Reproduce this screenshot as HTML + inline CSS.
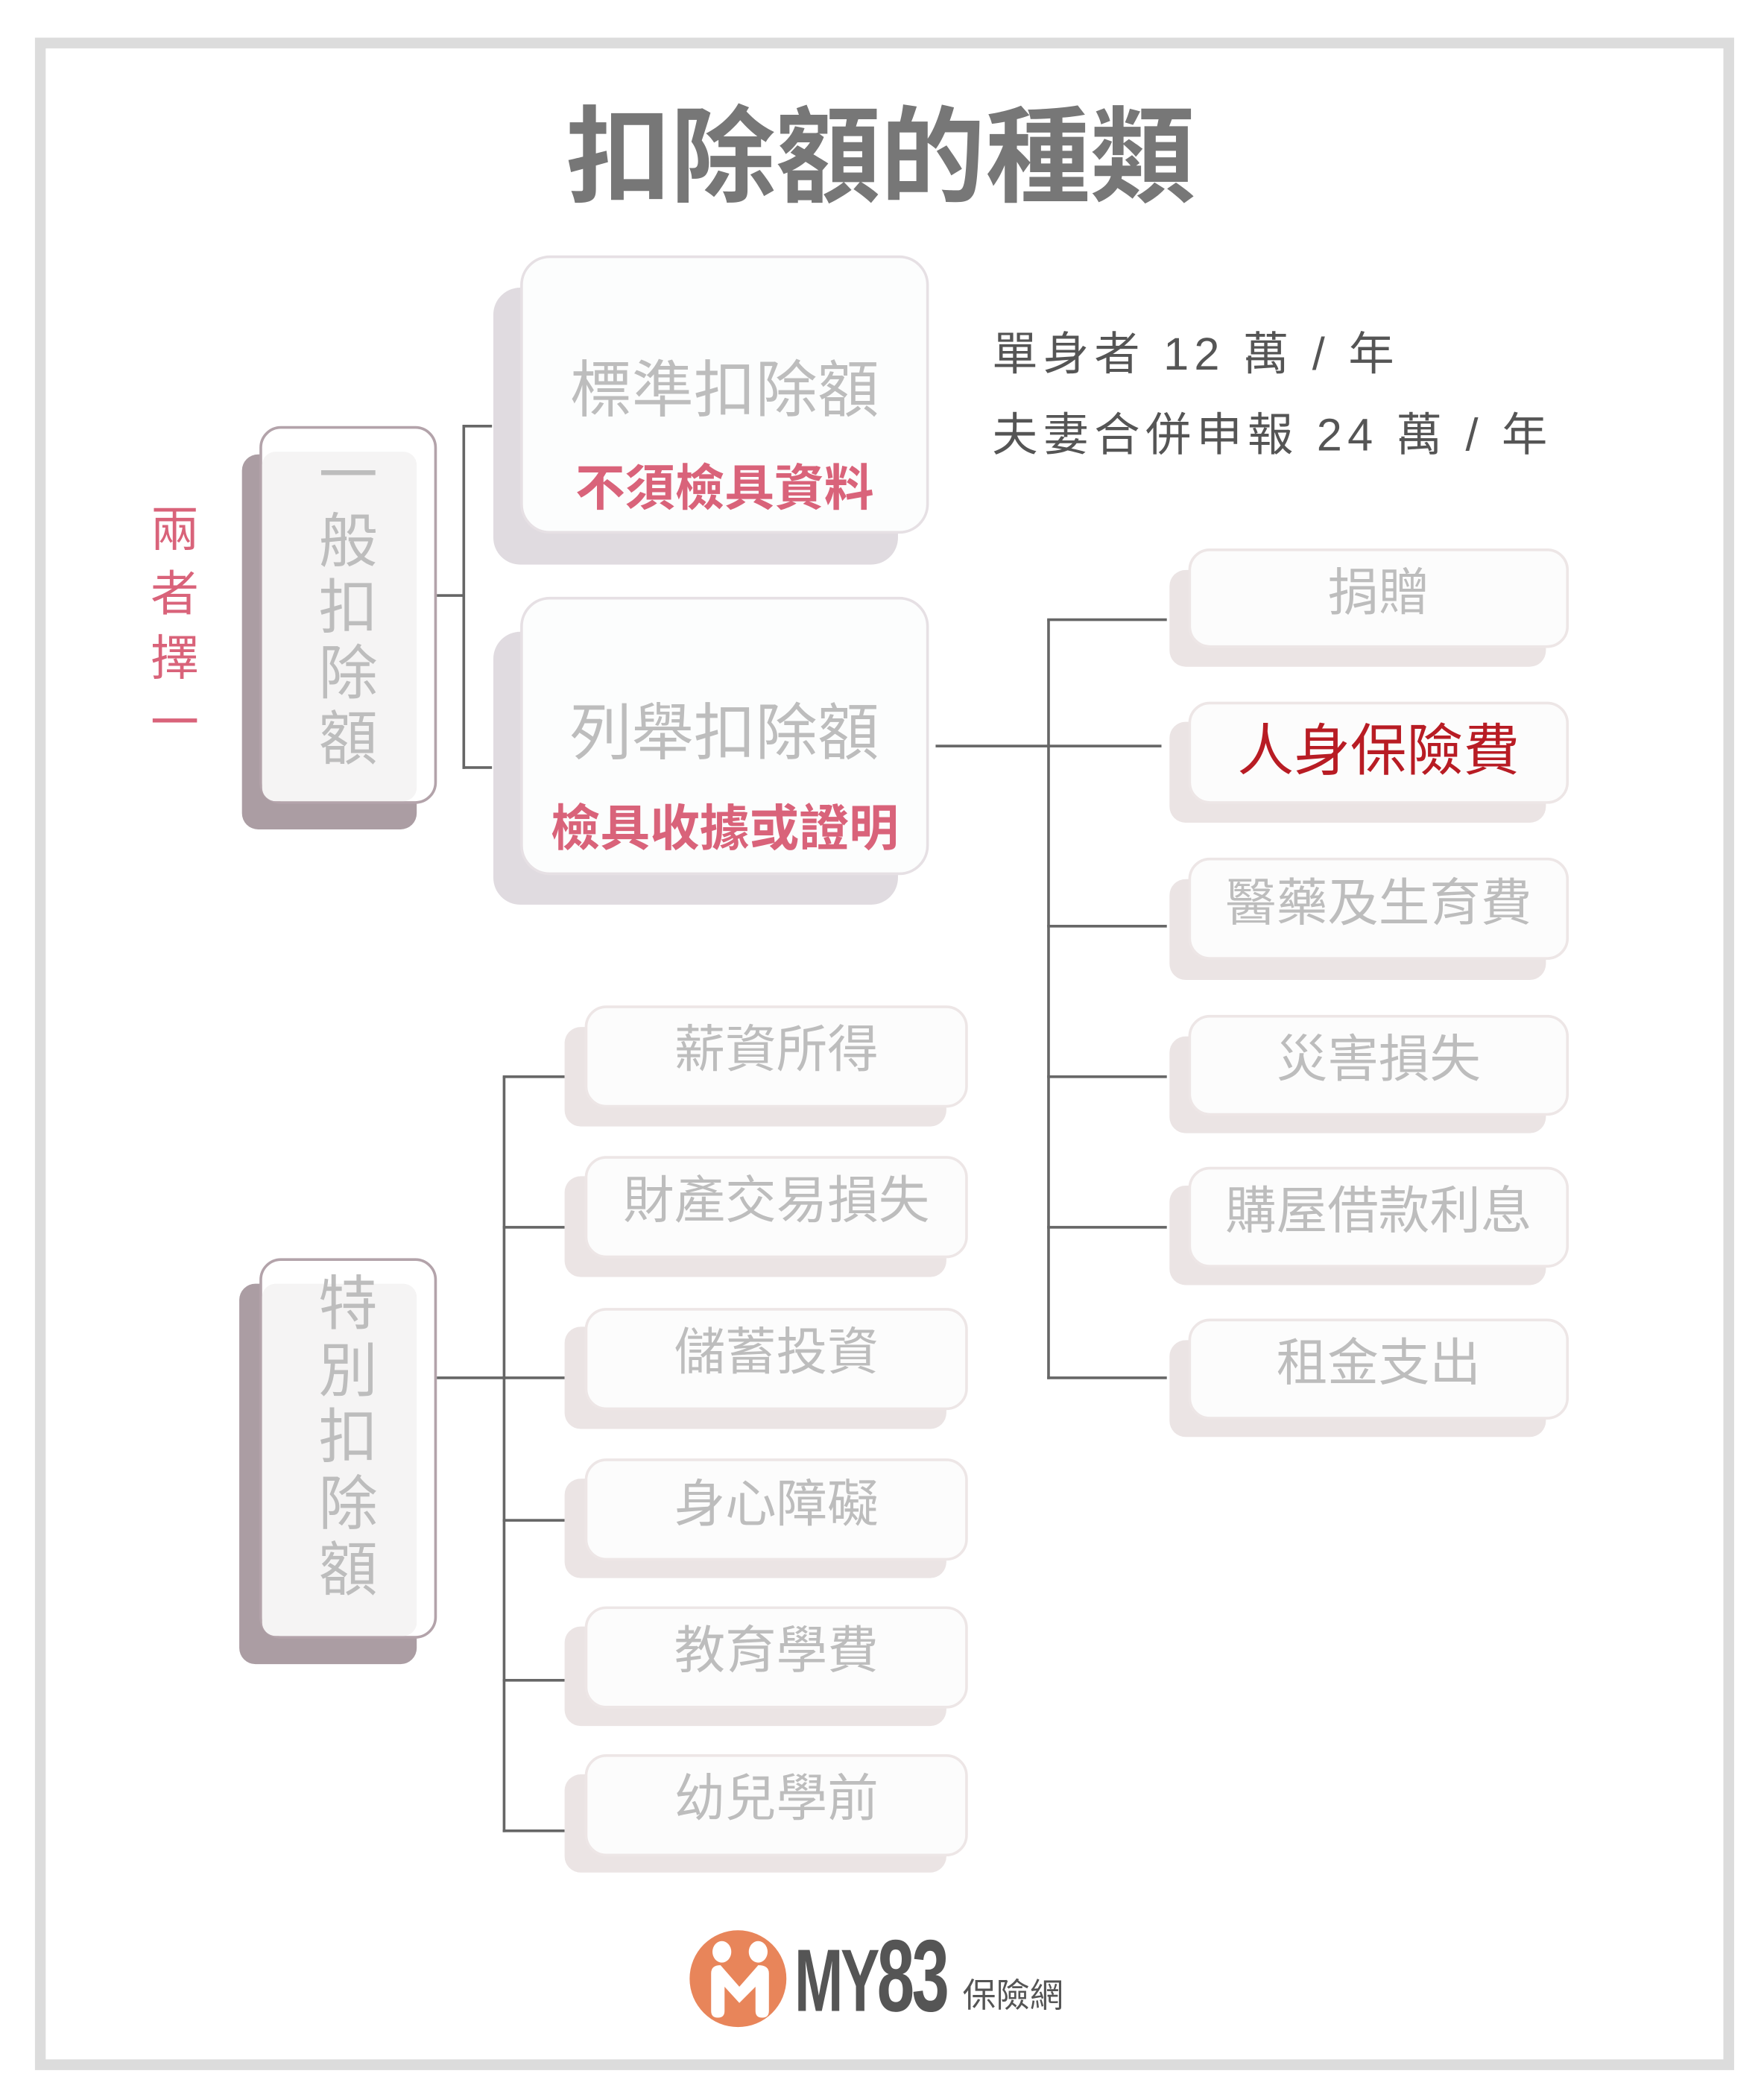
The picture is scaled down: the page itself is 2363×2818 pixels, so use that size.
<!DOCTYPE html>
<html><head><meta charset="utf-8"><style>
html,body{margin:0;padding:0;background:#fff;width:2363px;height:2817px;overflow:hidden}
#w{position:absolute;left:0;top:0;width:1310px;height:1562px;transform:scale(1.80382);transform-origin:0 0;font-family:"Liberation Sans","Noto Sans CJK TC",sans-serif}
.a{position:absolute}
.frame{left:26px;top:28px;width:1248px;height:1496px;border:8px solid #dcdcdc}
.sh{position:absolute;border-radius:12px}
.fr{position:absolute;background:#fff;border-radius:16px;box-sizing:border-box}
.t{position:absolute;text-align:center;white-space:nowrap;color:#bdbdbd}
.l{position:absolute;background:#666}
</style></head><body><div id="w">
<div class="a frame"></div>
<div class="t" style="left:0;width:1310px;top:72px;font-size:78px;font-weight:bold;color:#777;line-height:90px">扣除額的種類</div>

<div class="t" style="left:108px;width:44px;top:370px;font-size:36px;line-height:48px;color:#d9637a;white-space:normal">兩<br>者<br>擇<br>一</div>

<div class="sh" style="left:180px;top:338px;width:130px;height:279px;background:#ab9da3"></div>
<div class="fr" style="left:193px;top:317px;width:132px;height:281px;border:2px solid #b3a3aa"></div>
<div class="a" style="left:195px;top:336px;width:115px;height:260px;background:#f5f4f4;border-radius:10px"></div>
<div class="t" style="left:195px;width:128px;top:330px;font-size:44px;line-height:49px;white-space:normal">一<br>般<br>扣<br>除<br>額</div>

<div class="l" style="left:325px;top:442px;width:20px;height:2px"></div>
<div class="l" style="left:344px;top:317px;width:2px;height:255px"></div>
<div class="l" style="left:344px;top:316px;width:22px;height:2px"></div>
<div class="l" style="left:344px;top:570px;width:22px;height:2px"></div>

<div class="sh" style="left:367px;top:214px;width:301px;height:206px;background:#e0dbe0;border-radius:20px"></div>
<div class="fr" style="left:387px;top:190px;width:304px;height:207px;border:2px solid #e6e0e4;border-radius:22px;background:#fcfdfd"></div>
<div class="t" style="left:387px;width:304px;top:262px;font-size:46px;line-height:56px">標準扣除額</div>
<div class="t" style="left:387px;width:304px;top:342px;font-size:37px;line-height:44px;font-weight:bold;color:#d9637a">不須檢具資料</div>

<div class="sh" style="left:367px;top:470px;width:301px;height:203px;background:#e0dbe0;border-radius:20px"></div>
<div class="fr" style="left:387px;top:444px;width:304px;height:207px;border:2px solid #e6e0e4;border-radius:22px;background:#fcfdfd"></div>
<div class="t" style="left:387px;width:304px;top:517px;font-size:46px;line-height:56px">列舉扣除額</div>
<div class="t" style="left:387px;width:304px;top:595px;font-size:37px;line-height:44px;font-weight:bold;color:#d9637a">檢具收據或證明</div>

<div class="a" style="left:738px;top:242px;font-size:34px;line-height:44px;color:#555;letter-spacing:4px;white-space:nowrap">單身者 12 萬 / 年</div>
<div class="a" style="left:738px;top:302px;font-size:34px;line-height:44px;color:#555;letter-spacing:4px;white-space:nowrap">夫妻合併申報 24 萬 / 年</div>

<div class="l" style="left:696px;top:554px;width:168px;height:2px"></div>
<div class="l" style="left:779px;top:461px;width:2px;height:565px"></div>
<div class="l" style="left:779px;top:460px;width:89px;height:2px"></div>
<div class="l" style="left:779px;top:688px;width:89px;height:2px"></div>
<div class="l" style="left:779px;top:800px;width:89px;height:2px"></div>
<div class="l" style="left:779px;top:912px;width:89px;height:2px"></div>
<div class="l" style="left:779px;top:1024px;width:89px;height:2px"></div>

<div class="sh" style="left:870px;top:424px;width:280px;height:72px;background:#ebe4e4"></div>
<div class="fr" style="left:884px;top:408px;width:283px;height:74px;border:2px solid #ede6e6;background:#fcfcfc"></div>
<div class="t" style="left:884px;width:283px;top:418px;font-size:38px;line-height:48px">捐贈</div>

<div class="sh" style="left:870px;top:537px;width:280px;height:75px;background:#ebe4e4"></div>
<div class="fr" style="left:884px;top:522px;width:283px;height:76px;border:2px solid #ede6e6;background:#fcfcfc"></div>
<div class="t" style="left:884px;width:283px;top:533px;font-size:42px;line-height:52px;color:#b81c24">人身保險費</div>

<div class="sh" style="left:870px;top:654px;width:280px;height:75px;background:#ebe4e4"></div>
<div class="fr" style="left:884px;top:638px;width:283px;height:76px;border:2px solid #ede6e6;background:#fcfcfc"></div>
<div class="t" style="left:884px;width:283px;top:649px;font-size:38px;line-height:48px">醫藥及生育費</div>

<div class="sh" style="left:870px;top:771px;width:280px;height:72px;background:#ebe4e4"></div>
<div class="fr" style="left:884px;top:755px;width:283px;height:75px;border:2px solid #ede6e6;background:#fcfcfc"></div>
<div class="t" style="left:884px;width:283px;top:765px;font-size:38px;line-height:48px">災害損失</div>

<div class="sh" style="left:870px;top:882px;width:280px;height:74px;background:#ebe4e4"></div>
<div class="fr" style="left:884px;top:868px;width:283px;height:75px;border:2px solid #ede6e6;background:#fcfcfc"></div>
<div class="t" style="left:884px;width:283px;top:878px;font-size:38px;line-height:48px">購屋借款利息</div>

<div class="sh" style="left:870px;top:997px;width:280px;height:72px;background:#ebe4e4"></div>
<div class="fr" style="left:884px;top:981px;width:283px;height:75px;border:2px solid #ede6e6;background:#fcfcfc"></div>
<div class="t" style="left:884px;width:283px;top:991px;font-size:38px;line-height:48px">租金支出</div>

<div class="sh" style="left:178px;top:955px;width:132px;height:283px;background:#ab9da3"></div>
<div class="fr" style="left:193px;top:936px;width:132px;height:283px;border:2px solid #b3a3aa"></div>
<div class="a" style="left:195px;top:955px;width:115px;height:262px;background:#f5f4f4;border-radius:10px"></div>
<div class="t" style="left:195px;width:128px;top:946px;font-size:44px;line-height:49.5px;white-space:normal">特<br>別<br>扣<br>除<br>額</div>

<div class="l" style="left:325px;top:1024px;width:50px;height:2px"></div>
<div class="l" style="left:374px;top:801px;width:2px;height:562px"></div>
<div class="l" style="left:374px;top:800px;width:46px;height:2px"></div>
<div class="l" style="left:374px;top:912px;width:46px;height:2px"></div>
<div class="l" style="left:374px;top:1024px;width:46px;height:2px"></div>
<div class="l" style="left:374px;top:1130px;width:46px;height:2px"></div>
<div class="l" style="left:374px;top:1249px;width:46px;height:2px"></div>
<div class="l" style="left:374px;top:1361px;width:46px;height:2px"></div>

<div class="sh" style="left:420px;top:764px;width:284px;height:74px;background:#ebe4e4"></div>
<div class="fr" style="left:435px;top:748px;width:285px;height:76px;border:2px solid #ede6e6;background:#fcfcfc"></div>
<div class="t" style="left:435px;width:285px;top:758px;font-size:38px;line-height:48px">薪資所得</div>

<div class="sh" style="left:420px;top:875px;width:284px;height:75px;background:#ebe4e4"></div>
<div class="fr" style="left:435px;top:860px;width:285px;height:76px;border:2px solid #ede6e6;background:#fcfcfc"></div>
<div class="t" style="left:435px;width:285px;top:870px;font-size:38px;line-height:48px">財產交易損失</div>

<div class="sh" style="left:420px;top:987px;width:284px;height:76px;background:#ebe4e4"></div>
<div class="fr" style="left:435px;top:973px;width:285px;height:76px;border:2px solid #ede6e6;background:#fcfcfc"></div>
<div class="t" style="left:435px;width:285px;top:983px;font-size:38px;line-height:48px">儲蓄投資</div>

<div class="sh" style="left:420px;top:1100px;width:284px;height:74px;background:#ebe4e4"></div>
<div class="fr" style="left:435px;top:1085px;width:285px;height:76px;border:2px solid #ede6e6;background:#fcfcfc"></div>
<div class="t" style="left:435px;width:285px;top:1096px;font-size:38px;line-height:48px">身心障礙</div>

<div class="sh" style="left:420px;top:1210px;width:284px;height:74px;background:#ebe4e4"></div>
<div class="fr" style="left:435px;top:1195px;width:285px;height:76px;border:2px solid #ede6e6;background:#fcfcfc"></div>
<div class="t" style="left:435px;width:285px;top:1205px;font-size:38px;line-height:48px">教育學費</div>

<div class="sh" style="left:420px;top:1320px;width:284px;height:73px;background:#ebe4e4"></div>
<div class="fr" style="left:435px;top:1305px;width:285px;height:76px;border:2px solid #ede6e6;background:#fcfcfc"></div>
<div class="t" style="left:435px;width:285px;top:1315px;font-size:38px;line-height:48px">幼兒學前</div>

<svg class="a" style="left:512px;top:1434px" width="76" height="76" viewBox="0 0 76 76">
<circle cx="37" cy="38" r="36" fill="#e8855a"/>
<ellipse cx="25" cy="18" rx="7" ry="8" fill="#fff"/>
<ellipse cx="52" cy="18" rx="7" ry="8" fill="#fff"/>
<path d="M17 34 Q17 28 24 28 L38 44 L52 28 Q60 28 60 34 L60 62 Q60 67 55 67 Q50 67 50 62 L50 44 L38 56 L27 44 L27 62 Q27 67 22 67 Q17 67 17 62 Z" fill="#fff"/>
</svg>
<div class="a" style="left:591px;top:1436px;font-size:66px;line-height:70px;font-weight:bold;color:#555;letter-spacing:-3px;transform:scaleX(0.66);transform-origin:0 0;white-space:nowrap">MY<span style="font-size:76px">83</span></div>
<div class="a" style="left:716px;top:1470px;font-size:25px;line-height:30px;color:#555;white-space:nowrap">保險網</div>
</div></body></html>
